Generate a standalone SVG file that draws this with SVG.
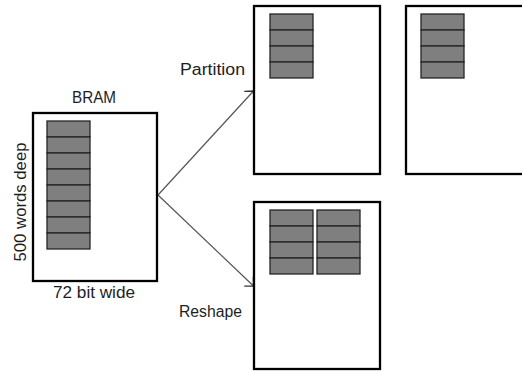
<svg xmlns="http://www.w3.org/2000/svg" width="522" height="372" viewBox="0 0 522 372">
  <style>
    .box { fill: #ffffff; stroke: #000000; stroke-width: 2.3; }
    .cell { fill: #7f7f7f; stroke: #262626; stroke-width: 1.3; }
    .lbl { font-family: "Liberation Sans", Arial, sans-serif; font-size: 16px; fill: #1e1e1e; }
    .conn { fill: none; stroke: #555555; stroke-width: 1.2; }
  </style>
  <defs>
    <marker id="arrow" markerUnits="userSpaceOnUse" markerWidth="20" markerHeight="20" refX="0" refY="0" viewBox="-10 -10 20 20" orient="auto" overflow="visible">
      <path d="M-6.5,-6.5 L0,0 L-6.5,6.5" fill="none" stroke="#333333" stroke-width="1.3"/>
    </marker>
    <g id="stack4">
      <rect class="cell" x="0" y="0" width="43" height="16"/>
      <rect class="cell" x="0" y="16" width="43" height="16"/>
      <rect class="cell" x="0" y="32" width="43" height="16"/>
      <rect class="cell" x="0" y="48" width="43" height="16"/>
    </g>
  </defs>
  <rect width="522" height="372" fill="#ffffff"/>

  <g id="connectors">
    <line class="conn" x1="158" y1="195" x2="253.5" y2="91" marker-end="url(#arrow)"/>
    <line class="conn" x1="158" y1="195" x2="253.5" y2="286" marker-end="url(#arrow)"/>
  </g>

  <g id="bram">
    <rect class="box" x="33" y="113" width="124" height="168"/>
    <use href="#stack4" x="47" y="121"/>
    <use href="#stack4" x="47" y="185"/>
    <text class="lbl" x="94" y="103" text-anchor="middle" textLength="44" lengthAdjust="spacingAndGlyphs">BRAM</text>
    <text class="lbl" x="94" y="298" text-anchor="middle" textLength="82" lengthAdjust="spacingAndGlyphs">72 bit wide</text>
    <text class="lbl" transform="translate(26,202) rotate(-90)" x="0" y="0" text-anchor="middle" textLength="119" lengthAdjust="spacingAndGlyphs">500 words deep</text>
  </g>

  <g id="partition">
    <rect class="box" x="254" y="6" width="126" height="168"/>
    <use href="#stack4" x="270" y="14"/>
    <text class="lbl" x="180" y="75" textLength="65" lengthAdjust="spacingAndGlyphs">Partition</text>
  </g>

  <g id="partition2">
    <rect class="box" x="406" y="6" width="130" height="168"/>
    <use href="#stack4" x="421" y="14"/>
  </g>

  <g id="reshape">
    <rect class="box" x="254" y="202" width="126" height="167"/>
    <use href="#stack4" x="270" y="210"/>
    <use href="#stack4" x="317" y="210"/>
    <text class="lbl" x="179" y="317" textLength="63" lengthAdjust="spacingAndGlyphs">Reshape</text>
  </g>
</svg>
